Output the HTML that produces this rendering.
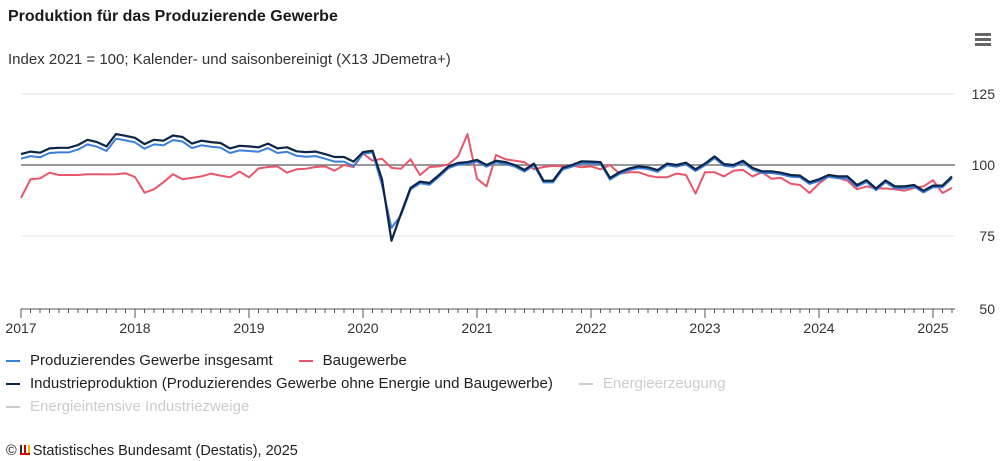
<!DOCTYPE html>
<html><head><meta charset="utf-8"><style>
body{margin:0;width:1000px;height:461px;background:#fff;font-family:"Liberation Sans",sans-serif;color:#222;overflow:hidden;position:relative}
.t{position:absolute;white-space:nowrap}
</style></head><body>
<div class="t" style="left:8px;top:8px;font-size:16px;font-weight:bold;color:#1a1a1a">Produktion für das Produzierende Gewerbe</div>
<div class="t" style="left:8px;top:51px;font-size:15px;color:#333">Index 2021 = 100; Kalender- und saisonbereinigt (X13 JDemetra+)</div>
<div style="position:absolute;left:975px;top:33px;width:16px;height:3px;background:#666;box-shadow:0 5px 0 #666,0 10px 0 #666"></div>
<svg id="s" width="1000" height="461" style="position:absolute;left:0;top:0"></svg>
<div class="t" style="left:6px;top:352px;font-size:15px"><span style="display:inline-block;width:14px;height:2px;background:#3d7fd9;vertical-align:middle;margin-right:10px"></span>Produzierendes Gewerbe insgesamt<span style="display:inline-block;width:14px;height:2px;background:#e8566b;vertical-align:middle;margin:0 10px 0 26px"></span>Baugewerbe</div>
<div class="t" style="left:6px;top:375px;font-size:15px"><span style="display:inline-block;width:14px;height:2px;background:#0d2547;vertical-align:middle;margin-right:10px"></span>Industrieproduktion (Produzierendes Gewerbe ohne Energie und Baugewerbe)<span style="color:#ccc"><span style="display:inline-block;width:14px;height:2px;background:#ccc;vertical-align:middle;margin:0 10px 0 26px"></span>Energieerzeugung</span></div>
<div class="t" style="left:6px;top:398px;font-size:15px;color:#ccc"><span style="display:inline-block;width:14px;height:2px;background:#ccc;vertical-align:middle;margin-right:10px"></span>Energieintensive Industriezweige</div>
<div class="t" style="left:6px;top:443px;font-size:14.5px">©<span style="display:inline-block;width:10px;height:8px;margin:0 3px;border-bottom:2px solid #c00;background:linear-gradient(90deg,#333 0 2px,transparent 2px 4px,#c00 4px 6px,transparent 6px 8px,#e6b800 8px 10px)"></span>Statistisches Bundesamt (Destatis), 2025</div>
<script>
var blk=[103.8,104.7,104.3,105.8,106,106,107,108.8,108,106.5,110.8,110.2,
109.5,107.3,108.8,108.5,110.3,109.8,107.5,108.5,108,107.7,105.8,106.7,
106.5,106.2,107.5,105.8,106.2,104.8,104.5,104.7,103.8,102.8,102.8,101.2,
104.5,105,95,73.5,83,92,94.2,93.7,96.5,99.5,100.7,101,
101.8,100,101.5,101,100,98.3,100.5,94.5,94.5,99,100,101.3,
101.2,101,95.5,97.5,98.8,99.5,99.2,98.2,100.5,100,100.8,98.5,
100.5,103,100.3,100,101.5,99,97.8,97.8,97.3,96.5,96.3,94,
95,96.5,96,96,93,94.7,91.8,94.6,92.5,92.5,93,91,
92.8,92.8,96];
var red=[88.5,95,95.3,97.3,96.5,96.5,96.5,96.8,96.8,96.7,96.8,97.1,
95.8,90.3,91.5,94,96.8,95,95.5,96,97,96.3,95.7,97.7,
95.7,98.8,99.3,99.5,97.3,98.5,98.7,99.3,99.5,98,100,99.3,
104,101.5,102.2,99,98.7,102,96.5,99.3,99.5,100.2,103,110.8,
95.2,92.5,103.5,102,101.5,101,98.5,99.3,99.7,99.5,99.8,99.2,
99.5,98.5,100,97,97.5,97.5,96.3,95.7,95.7,97,96.5,90,
97.5,97.5,96,98,98.3,96,97.5,95.2,95.5,93.5,93,90.2,
93.5,96,95.5,94.5,91.5,92.5,91.8,91.8,91.5,91,92,92.5,
94.7,90.2,92];
var blu=blk.map(function(v,i){if(i<36)return v-1.6;if(i==39)return 78;if(i==38)return 93;return v-0.6;});
function X(i){return 21+i*9.5}function Y(v){return 165-(v-100)*2.86}
function p(a,c,w){return '<polyline fill="none" stroke="'+c+'" stroke-width="'+w+'" stroke-linejoin="round" points="'+a.map(function(v,i){return X(i).toFixed(1)+','+Y(v).toFixed(1)}).join(' ')+'"/>'}
var h='';
[94,236].forEach(function(y){h+='<line x1="21" x2="955" y1="'+y+'" y2="'+y+'" stroke="#eee" stroke-width="1.5"/>'});
h+='<line x1="21" x2="955" y1="165" y2="165" stroke="#777" stroke-width="1.5"/>';
h+='<line x1="21" x2="955" y1="309" y2="309" stroke="#555" stroke-width="1"/>';
for(var i=0;i<=98;i++){var x=X(i);h+='<line x1="'+x+'" x2="'+x+'" y1="309" y2="'+(i%12==0?318:313)+'" stroke="#555" stroke-width="1"/>';}
for(var k=0;k<=8;k++){h+='<text x="'+X(k*12)+'" y="333" font-size="14" fill="#333" text-anchor="middle" font-family="Liberation Sans,sans-serif">'+(2017+k)+'</text>';}
[[125,99],[100,170],[75,241],[50,314]].forEach(function(a){h+='<text x="995" y="'+a[1]+'" font-size="14" fill="#333" text-anchor="end" font-family="Liberation Sans,sans-serif">'+a[0]+'</text>'});
h+=p(red,'#e8566b',2)+p(blu,'#3d7fd9',2)+p(blk,'#0d2547',2.2);
document.getElementById('s').innerHTML=h;
</script>
</body></html>
